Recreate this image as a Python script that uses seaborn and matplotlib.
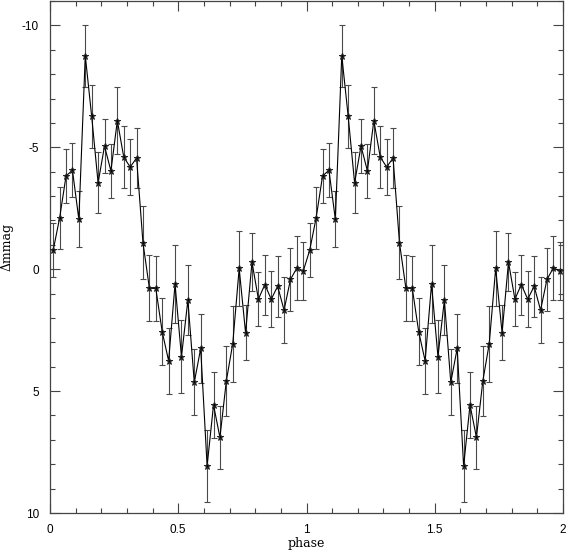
import numpy as np
import pandas as pd
import matplotlib
matplotlib.use("Agg")
import matplotlib.pyplot as plt
from matplotlib.ticker import MultipleLocator
import seaborn as sns

# phase bins (one cycle, 40 bins) -- plotted twice (phase 0-2)
phase_bins = [0.0125 + 0.025 * k for k in range(40)]
dmmag = [-0.78, -2.10, -3.82, -4.06, -2.04, -8.76, -6.27, -3.54, -5.05, -4.03,
         -6.09, -4.60, -4.19, -4.56, -1.08, 0.78, 0.79, 2.57, 3.76, 0.61,
         3.59, 1.27, 4.64, 3.25, 8.07, 5.57, 6.90, 4.58, 3.05, -0.03,
         2.61, -0.29, 1.23, 0.63, 1.23, 0.70, 1.68, 0.42, -0.05, 0.07]
dmmag_err = [1.10, 1.28, 1.12, 1.10, 1.15, 1.27, 1.30, 1.25, 1.10, 1.10,
             1.38, 1.28, 1.15, 1.25, 1.50, 1.35, 1.35, 1.38, 1.36, 1.60,
             1.50, 1.44, 1.35, 1.40, 1.47, 1.37, 1.30, 1.44, 1.56, 1.55,
             1.13, 1.20, 1.10, 1.23, 1.15, 1.25, 1.35, 1.30, 1.30, 1.20]
x_ticks = [0, 0.5, 1, 1.5, 2]
x_tick_labels = ["0", "0.5", "1", "1.5", "2"]
y_ticks = [-10, -5, 0, 5, 10]
y_tick_labels = ["-10", "-5", "0", "5", "10"]

df = pd.DataFrame({
    "phase": list(phase_bins) + [p + 1 for p in phase_bins],
    "dmmag": dmmag + dmmag,
    "err": dmmag_err + dmmag_err,
})

sns.set_theme(style="white")
plt.rcParams["font.family"] = ["Liberation Sans", "DejaVu Sans"]

fig = plt.figure(figsize=(5.66, 5.54), dpi=100)
ax = fig.add_axes([50 / 566, 41 / 554, 513 / 566, 512 / 554])

ax.errorbar(df["phase"], df["dmmag"], yerr=df["err"], fmt="none",
            ecolor="#4a4a4a", elinewidth=0.8, capsize=2.3, capthick=0.8,
            zorder=2)
sns.lineplot(data=df, x="phase", y="dmmag", ax=ax, color="black",
             linewidth=0.8, marker="*", markersize=5,
             markeredgecolor="#222222", markerfacecolor="black",
             sort=False, estimator=None, zorder=3)

ax.set_xlim(0, 2)
ax.set_ylim(10, -11)
ax.set_xticks(x_ticks)
ax.set_xticklabels(x_tick_labels)
ax.set_yticks(y_ticks)
ax.set_yticklabels(y_tick_labels)
ax.xaxis.set_minor_locator(MultipleLocator(0.1))
ax.yaxis.set_minor_locator(MultipleLocator(1))

ax.tick_params(axis="both", which="both", direction="in", top=True,
               right=True, bottom=True, left=True, color="#444444",
               width=0.8, labelsize=8.5, labelcolor="black", pad=8)
ax.tick_params(which="major", length=7.2)
ax.tick_params(which="minor", length=3.6)

for s in ax.spines.values():
    s.set_color("#444444")
    s.set_linewidth(0.9)

ax.set_xlabel("phase", family=["DejaVu Serif"], fontsize=9, color="black")
ax.set_ylabel("Δmmag", family=["DejaVu Serif"], fontsize=9, color="black")
ax.xaxis.set_label_coords(0.5, -0.047)
ax.yaxis.set_label_coords(-0.071, 0.52)

fig.savefig("out.png", dpi=100)
